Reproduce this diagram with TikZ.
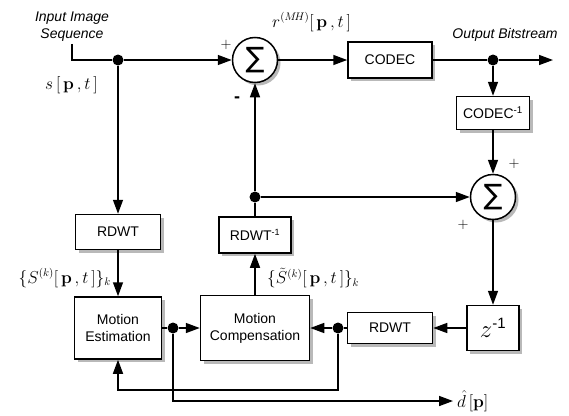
\documentclass[tikz,border=0pt]{standalone}
\usepackage[no-math]{fontspec}
\setmainfont{Liberation Sans}
\newfontfamily\symfont{DejaVu Sans}
\usepackage{tikz}
\usetikzlibrary{shapes.geometric, arrows.meta, shadows, positioning}
\tikzstyle{shade} = [preaction={draw=none, fill=gray!55, transform canvas={shift={(3pt,-3pt)}}}]
\tikzstyle{block} = [rectangle, draw=black, line width=1.5pt, fill=white, text centered, align=center, font=\fontsize{14}{17}\selectfont, shade]
\tikzstyle{adder} = [circle, draw=black, line width=1.5pt, fill=white, minimum size=45pt, inner sep=0pt, font=\symfont\fontsize{28}{28}\selectfont, shade]
\tikzstyle{dot} = [circle, fill=black, minimum size=11pt, inner sep=0pt]
\tikzstyle{arrow} = [line width=1.5pt, -{Triangle[length=14pt,width=10pt]}]
\tikzstyle{line} = [line width=1.5pt]
\tikzstyle{sign} = [font=\fontsize{15}{15}\selectfont]
\tikzstyle{lbl} = [font=\fontsize{16}{18}\selectfont, inner sep=1pt]

\begin{document}
\begin{tikzpicture}[x=1pt, y=1pt]
	\useasboundingbox (0,0) rectangle (569,-415);
	% top row
	\node (sum1) [adder] at (255,-60) {∑};
	\node (codec) [block, right of=sum1, node distance=135pt, minimum width=84pt, minimum height=36pt] {CODEC};
	\node (dotout) [dot, right of=codec, node distance=103pt] {};
	\coordinate [right of=dotout, node distance=60pt] (outend);
	\node (codecinv) [block, below of=dotout, node distance=53pt, minimum width=73pt, minimum height=33pt] {CODEC\textsuperscript{-1}};
	\node (sum2) [adder, below of=codecinv, node distance=84pt] {∑};
	\node (z) [block, below of=sum2, node distance=131pt, minimum width=52pt, minimum height=45pt, font=\fontsize{24}{24}\selectfont] {$z^{\mbox{\fontsize{15}{15}\selectfont -1}}$};
	% bottom row
	\node (rdwt3) [block, left of=z, node distance=103pt, minimum width=85pt, minimum height=31pt] {RDWT};
	\node (dot3) [dot, left of=rdwt3, node distance=52pt] {};
	\node (mc) [block, left of=dot3, node distance=83pt, minimum width=109pt, minimum height=65pt] {Motion\\Compensation};
	\node (dot2) [dot, left of=mc, node distance=82pt] {};
	\node (me) [block, left of=dot2, node distance=55pt, minimum width=87pt, minimum height=62pt] {Motion\\Estimation};
	\node (rdwt1) [block, above of=me, node distance=96pt, minimum width=85pt, minimum height=35pt] {RDWT};
	\node (dot1) [dot, above of=rdwt1, node distance=172pt] {};
	\node (rdwtinv) [block, above of=mc, node distance=93pt, minimum width=72pt, minimum height=36pt] {RDWT\textsuperscript{\fontsize{9}{9}\selectfont -1}};
	\node (dot4) [dot, above of=rdwtinv, node distance=38pt] {};
	\coordinate [below of=dot3, node distance=62pt] (fb1);
	\node (input) [align=center, font=\itshape\fontsize{14}{17}\selectfont, inner sep=2pt] at (72,-27) {Input Image\\Sequence};
	\node (dhat) [lbl, anchor=west, inner sep=4pt] at (453,-401) {$\hat{d}\,[\mathbf{p}]$};

	\draw [line] (input) |- (dot1);
	\draw [arrow] (dot1) -- (sum1);
	\draw [arrow] (dot1) -- (rdwt1);
	\draw [arrow] (rdwt1) -- (me);
	\draw [arrow] (sum1) -- (codec);
	\draw [line] (codec) -- (dotout);
	\draw [arrow] (dotout) -- (outend);
	\draw [arrow] (dotout) -- (codecinv);
	\draw [arrow] (codecinv) -- (sum2);
	\draw [arrow] (sum2) -- (z);
	\draw [arrow] (z) -- (rdwt3);
	\draw [line] (rdwt3) -- (dot3);
	\draw [arrow] (dot3) -- (mc);
	\draw [line] (me) -- (dot2);
	\draw [arrow] (dot2) -- (mc);
	\draw [arrow] (mc) -- (rdwtinv);
	\draw [line] (rdwtinv) -- (dot4);
	\draw [arrow] (dot4) -- (sum1);
	\draw [arrow] (dot4) -- (sum2);
	\draw [arrow] (dot3) -- (fb1) -| (me);
	\draw [arrow] (dot2) |- (dhat);

	% signs and labels
	\node [sign] at (226,-45) {$+$};
	\node [font=\bfseries\fontsize{18}{18}\selectfont] at (237,-100) {-};
	\node [sign] at (514,-164) {$+$};
	\node [sign] at (463,-225) {$+$};
	\node [lbl, anchor=west] at (271,-22) {$r^{(M\!H)}[\,\mathbf{p}\,,t\,]$};
	\node [font=\itshape\fontsize{14}{16}\selectfont] at (505,-35) {Output Bitstream};
	\node [lbl, anchor=west] at (44,-85) {$s\,[\,\mathbf{p}\,,t\,]$};
	\node [lbl, anchor=east] at (112,-278) {$\{S^{(k)}[\,\mathbf{p}\,,t\,]\}_k$};
	\node [lbl, anchor=west] at (266,-278) {$\{\tilde{S}^{(k)}[\,\mathbf{p}\,,t\,]\}_k$};
\end{tikzpicture}
\end{document}
